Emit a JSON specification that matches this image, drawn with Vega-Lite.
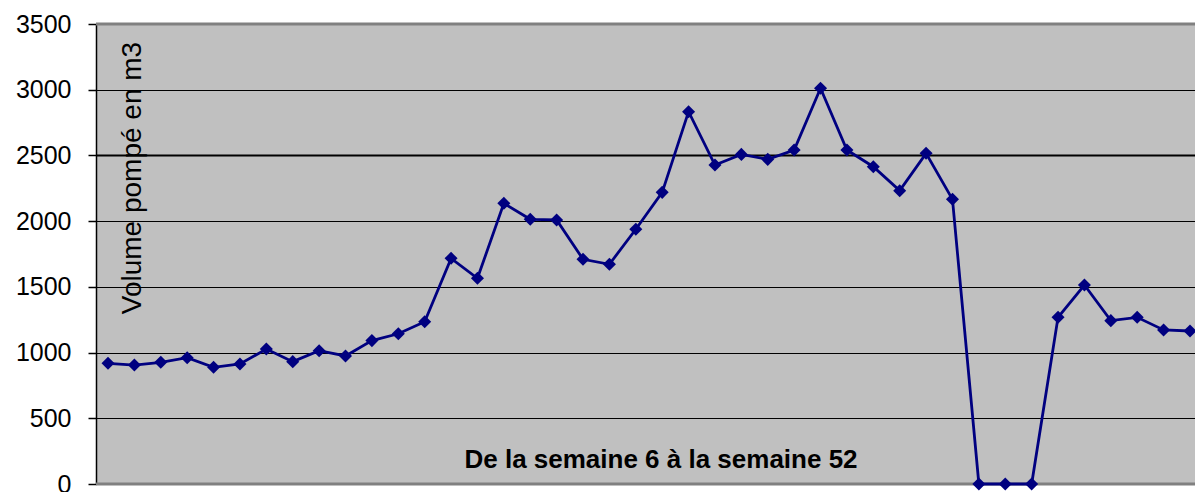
{
  "$schema": "https://vega.github.io/schema/vega-lite/v6.json",
  "width": 1099,
  "height": 460,
  "autosize": "none",
  "padding": {"left": 96, "top": 24, "right": 0, "bottom": 8},
  "background": "white",
  "config": {
    "font": "Liberation Sans",
    "view": {"fill": "#C0C0C0", "stroke": null},
    "axisY": {
      "grid": true,
      "gridColor": "#000000",
      "gridOpacity": 1,
      "domainColor": "#000000",
      "domainWidth": 1.5,
      "tickColor": "#000000",
      "tickSize": 8,
      "tickWidth": 1.5,
      "labelFont": "Liberation Sans",
      "labelFontSize": 25,
      "labelColor": "#000000",
      "labelPadding": 17,
      "title": null
    }
  },
  "datasets": {
    "pompage": [
      {"semaine": 6, "volume": 918},
      {"semaine": 7, "volume": 905},
      {"semaine": 8, "volume": 926},
      {"semaine": 9, "volume": 961},
      {"semaine": 10, "volume": 888},
      {"semaine": 11, "volume": 913},
      {"semaine": 12, "volume": 1027},
      {"semaine": 13, "volume": 931},
      {"semaine": 14, "volume": 1014},
      {"semaine": 15, "volume": 974},
      {"semaine": 16, "volume": 1091},
      {"semaine": 17, "volume": 1143},
      {"semaine": 18, "volume": 1235},
      {"semaine": 19, "volume": 1717},
      {"semaine": 20, "volume": 1565},
      {"semaine": 21, "volume": 2136},
      {"semaine": 22, "volume": 2014},
      {"semaine": 23, "volume": 2009},
      {"semaine": 24, "volume": 1710},
      {"semaine": 25, "volume": 1672},
      {"semaine": 26, "volume": 1938},
      {"semaine": 27, "volume": 2219},
      {"semaine": 28, "volume": 2833},
      {"semaine": 29, "volume": 2427},
      {"semaine": 30, "volume": 2508},
      {"semaine": 31, "volume": 2470},
      {"semaine": 32, "volume": 2541},
      {"semaine": 33, "volume": 3011},
      {"semaine": 34, "volume": 2541},
      {"semaine": 35, "volume": 2414},
      {"semaine": 36, "volume": 2232},
      {"semaine": 37, "volume": 2516},
      {"semaine": 38, "volume": 2166},
      {"semaine": 39, "volume": 0},
      {"semaine": 40, "volume": 0},
      {"semaine": 41, "volume": 0},
      {"semaine": 42, "volume": 1268},
      {"semaine": 43, "volume": 1514},
      {"semaine": 44, "volume": 1243},
      {"semaine": 45, "volume": 1268},
      {"semaine": 46, "volume": 1172},
      {"semaine": 47, "volume": 1164}
    ],
    "un": [{}]
  },
  "layer": [
    {
      "data": {"name": "un"},
      "mark": {"type": "rule", "color": "#808080", "strokeWidth": 3},
      "encoding": {
        "y": {"datum": 3500, "type": "quantitative", "scale": {"domain": [0, 3500]}, "axis": {"values": [0, 500, 1000, 1500, 2000, 2500, 3000, 3500], "format": "d", "gridWidth": {"condition": {"test": "datum.value === 2500", "value": 2.2}, "value": 1}}}
      }
    },
    {
      "data": {"name": "un"},
      "mark": {"type": "rule", "color": "#808080", "strokeWidth": 3},
      "encoding": {
        "y": {"datum": 0, "type": "quantitative", "scale": {"domain": [0, 3500]}, "axis": {"values": [0, 500, 1000, 1500, 2000, 2500, 3000, 3500], "format": "d", "gridWidth": {"condition": {"test": "datum.value === 2500", "value": 2.2}, "value": 1}}}
      }
    },
    {
      "data": {"name": "pompage"},
      "mark": {"type": "line", "color": "#000080", "strokeWidth": 2.8, "point": {"shape": "diamond", "size": 170, "filled": true, "color": "#000080"}},
      "encoding": {
        "x": {"field": "semaine", "type": "quantitative", "scale": {"domain": [5.545, 47.19], "nice": false, "zero": false}, "axis": null},
        "y": {"field": "volume", "type": "quantitative", "scale": {"domain": [0, 3500]}, "axis": {"values": [0, 500, 1000, 1500, 2000, 2500, 3000, 3500], "format": "d", "gridWidth": {"condition": {"test": "datum.value === 2500", "value": 2.2}, "value": 1}}}
      }
    },
    {
      "data": {"name": "un"},
      "mark": {"type": "text", "text": "Volume pompé en m3", "angle": 270, "align": "center", "baseline": "middle", "fontSize": 28, "font": "Liberation Sans", "color": "#000000"},
      "encoding": {
        "x": {"datum": 6.95, "type": "quantitative"},
        "y": {"datum": 2328, "type": "quantitative", "axis": {"values": [0, 500, 1000, 1500, 2000, 2500, 3000, 3500], "format": "d", "gridWidth": {"condition": {"test": "datum.value === 2500", "value": 2.2}, "value": 1}}}
      }
    },
    {
      "data": {"name": "un"},
      "mark": {"type": "text", "text": "De la semaine 6 à la semaine 52", "align": "center", "baseline": "alphabetic", "fontSize": 26, "fontWeight": "bold", "font": "Liberation Sans", "color": "#000000"},
      "encoding": {
        "x": {"datum": 26.955, "type": "quantitative"},
        "y": {"datum": 122, "type": "quantitative", "axis": {"values": [0, 500, 1000, 1500, 2000, 2500, 3000, 3500], "format": "d", "gridWidth": {"condition": {"test": "datum.value === 2500", "value": 2.2}, "value": 1}}}
      }
    }
  ]
}
